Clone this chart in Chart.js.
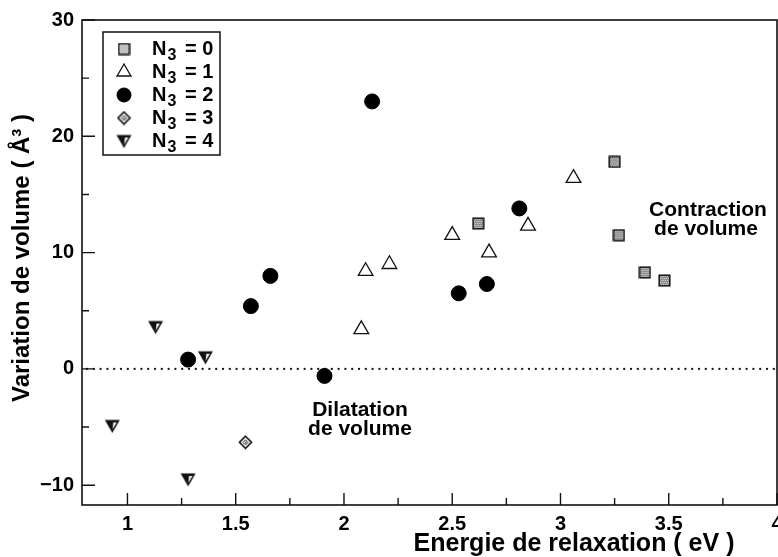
<!DOCTYPE html>
<html>
<head>
<meta charset="utf-8">
<script src="https://cdn.jsdelivr.net/npm/chart.js"></script>
<style>html,body{margin:0;padding:0;background:#fff;}</style>
</head>
<body>
<canvas id="chart" width="778" height="557"></canvas>
<script>
// values
const n0X = [2.62, 3.25, 3.27, 3.39, 3.48];
const n0Y = [12.5, 17.8, 11.5, 8.3, 7.6];
const n1X = [2.08, 2.10, 2.21, 2.50, 2.67, 2.85, 3.06];
const n1Y = [3.4, 8.4, 9.0, 11.5, 10.0, 12.3, 16.4];
const n2X = [1.28, 1.57, 1.66, 1.91, 2.13, 2.53, 2.66, 2.81];
const n2Y = [0.8, 5.4, 8.0, -0.6, 23.0, 6.5, 7.3, 13.8];
const n3X = [1.545];
const n3Y = [-6.3];
const n4X = [0.93, 1.13, 1.36, 1.28];
const n4Y = [-4.9, 3.6, 1.0, -9.5];

const xTicks = [1, 1.5, 2, 2.5, 3, 3.5, 4];
const yTicks = [-10, 0, 10, 20, 30];
const xMinor = [1.25, 1.75, 2.25, 2.75, 3.25, 3.75];
const yMinor = [-5, 5, 15, 25];
const seriesN = ['0', '1', '2', '3', '4'];

const FONT = '"Liberation Sans", Arial, Helvetica, sans-serif';
const PLOT_RIGHT = 777;

function pts(xs, ys) {
    return xs.map((x, i) => ({ x: x, y: ys[i] }));
}

function markerCanvas(w, h, draw) {
    const c = document.createElement('canvas');
    c.width = w; c.height = h;
    draw(c.getContext('2d'));
    return c;
}

// stippled grey square
function makeSquare(dark, light) {
    return markerCanvas(13, 13, g => {
        g.fillStyle = dark;
        g.fillRect(1, 1, 11, 11);
        g.fillStyle = light;
        for (let i = 2; i < 11; i += 2)
            for (let j = 2; j < 11; j += 2) g.fillRect(i + (j % 4 ? 1 : 0), j, 1, 1);
        g.strokeStyle = '#111';
        g.lineWidth = 1.5;
        g.strokeRect(1.2, 1.2, 10.6, 10.6);
    });
}
const squareMark = makeSquare('#8e8e8e', '#d4d4d4');
const squareLegend = makeSquare('#b5b5b5', '#e6e6e6');

// small diamond with a dot in the middle
const diamondMark = markerCanvas(15, 15, g => {
    g.strokeStyle = '#111';
    g.fillStyle = '#fff';
    g.lineWidth = 1.6;
    g.beginPath();
    g.moveTo(7.5, 1.5); g.lineTo(13.5, 7.5); g.lineTo(7.5, 13.5); g.lineTo(1.5, 7.5);
    g.closePath(); g.fill(); g.stroke();
    g.lineWidth = 1;
    g.beginPath();
    g.moveTo(7.5, 5); g.lineTo(10, 7.5); g.lineTo(7.5, 10); g.lineTo(5, 7.5);
    g.closePath(); g.stroke();
    g.fillStyle = '#555';
    g.fillRect(7, 7, 1.5, 1.5);
});

// down triangle, heavy black with a white slash
const downMark = markerCanvas(17, 15, g => {
    g.fillStyle = '#111';
    g.beginPath();
    g.moveTo(1, 1.5); g.lineTo(16, 1.5); g.lineTo(8.5, 14.5);
    g.closePath(); g.fill();
    g.fillStyle = '#fff';
    g.beginPath();
    g.moveTo(9.5, 4); g.lineTo(12.8, 4); g.lineTo(8.6, 11);
    g.closePath(); g.fill();
});

const styles = [
    { pointStyle: squareMark },
    { pointStyle: 'triangle', radius: 8.5, backgroundColor: '#fff', borderColor: '#111', borderWidth: 1.3 },
    { pointStyle: 'circle', radius: 7.5, backgroundColor: '#000', borderColor: '#000', borderWidth: 1 },
    { pointStyle: diamondMark },
    { pointStyle: downMark }
];
const legendMarks = [squareLegend, 'triangle', 'circle', diamondMark, downMark];

const decor = {
    id: 'decor',
    afterLayout(chart) {
        // let the frame run to the page edge like the scan does
        const x = chart.scales.x;
        chart.chartArea.right = PLOT_RIGHT;
        x.right = PLOT_RIGHT;
        x.width = PLOT_RIGHT - x.left;
        x.configure();
    },
    beforeDatasetsDraw(chart) {
        const { ctx, chartArea: a, scales: { y } } = chart;
        const y0 = y.getPixelForValue(0);
        ctx.save();
        ctx.fillStyle = '#111';
        for (let px = a.left + 5; px < a.right - 2; px += 6.8) {
            ctx.beginPath();
            ctx.arc(px, y0, 1.15, 0, Math.PI * 2);
            ctx.fill();
        }
        ctx.restore();
    },
    afterDatasetsDraw(chart) {
        const { ctx, chartArea: a, scales: { x, y } } = chart;
        ctx.save();
        ctx.strokeStyle = '#111';

        // frame
        ctx.lineWidth = 1.6;
        ctx.strokeRect(a.left, a.top, a.right - a.left, a.bottom - a.top);

        // inward ticks
        ctx.lineWidth = 1.4;
        ctx.beginPath();
        xTicks.forEach(v => { const p = x.getPixelForValue(v); ctx.moveTo(p, a.bottom); ctx.lineTo(p, a.bottom - 12); });
        xMinor.forEach(v => { const p = x.getPixelForValue(v); ctx.moveTo(p, a.bottom); ctx.lineTo(p, a.bottom - 7); });
        yTicks.forEach(v => { const p = y.getPixelForValue(v); ctx.moveTo(a.left, p); ctx.lineTo(a.left + 13, p); });
        yMinor.forEach(v => { const p = y.getPixelForValue(v); ctx.moveTo(a.left, p); ctx.lineTo(a.left + 7, p); });
        ctx.stroke();

        // axis titles
        ctx.fillStyle = '#000';
        ctx.font = 'bold 25px ' + FONT;
        ctx.textAlign = 'center';
        ctx.textBaseline = 'middle';
        ctx.fillText('Energie de relaxation ( eV )', 574, 544);
        ctx.save();
        ctx.translate(22, 258);
        ctx.rotate(-Math.PI / 2);
        ctx.font = 'bold 24px ' + FONT;
        ctx.fillText('Variation de volume ( Å³ )', 0, 0);
        ctx.restore();

        // annotations
        ctx.font = 'bold 21px ' + FONT;
        ctx.fillText('Contraction', 708, 210);
        ctx.fillText('de volume', 706, 229);
        ctx.fillText('Dilatation', 360, 410);
        ctx.fillText('de volume', 360, 429);

        // legend
        const lx = 103, ly = 32, lw = 117, lh = 123;
        ctx.fillStyle = '#fff';
        ctx.fillRect(lx, ly, lw, lh);
        ctx.lineWidth = 1.5;
        ctx.strokeRect(lx, ly, lw, lh);
        const rows = [49, 72, 95, 118, 141];
        rows.forEach((ry, i) => {
            const st = styles[i];
            ctx.fillStyle = st.backgroundColor || '#000';
            ctx.strokeStyle = st.borderColor || '#000';
            ctx.lineWidth = st.borderWidth || 0;
            Chart.helpers.drawPoint(ctx, {
                pointStyle: legendMarks[i],
                radius: st.radius ? st.radius - 0.5 : 6,
                rotation: 0,
                borderWidth: st.borderWidth || 0
            }, 124, ry);
            ctx.fillStyle = '#000';
            ctx.textAlign = 'left';
            ctx.textBaseline = 'middle';
            ctx.font = 'bold 20px ' + FONT;
            ctx.fillText('N', 152, ry);
            const nw = ctx.measureText('N').width;
            ctx.font = 'bold 16px ' + FONT;
            ctx.fillText('3', 152 + nw + 1, ry + 7);
            ctx.font = 'bold 20px ' + FONT;
            ctx.fillText('= ' + seriesN[i], 185, ry);
        });
        ctx.restore();
    }
};

const datasets = [
    { data: pts(n0X, n0Y), ...styles[0] },
    { data: pts(n1X, n1Y), ...styles[1] },
    { data: pts(n2X, n2Y), ...styles[2] },
    { data: pts(n3X, n3Y), ...styles[3] },
    { data: pts(n4X, n4Y), ...styles[4] }
].map((d, i) => Object.assign({ label: 'N3 = ' + seriesN[i] }, d));

const tickLabel = v => (v < 0 ? '\u2212' + Math.abs(v) : String(v));

new Chart(document.getElementById('chart'), {
    type: 'scatter',
    data: { datasets: datasets },
    options: {
        responsive: false,
        animation: false,
        events: [],
        layout: { padding: { top: 20, right: 1, left: 0, bottom: 0 } },
        plugins: { legend: { display: false }, tooltip: { enabled: false } },
        scales: {
            x: {
                type: 'linear',
                min: 0.79,
                max: 4,
                grid: { display: false, drawTicks: false },
                border: { display: false },
                afterBuildTicks: s => { s.ticks = xTicks.map(v => ({ value: v })); },
                afterFit: s => { s.height = 52; s.paddingLeft = 0; s.paddingRight = 0; },
                ticks: {
                    color: '#000',
                    padding: 7,
                    maxRotation: 0,
                    autoSkip: false,
                    callback: tickLabel,
                    font: { family: FONT, size: 20, weight: 'bold' }
                }
            },
            y: {
                type: 'linear',
                min: -11.7,
                max: 30,
                grid: { display: false, drawTicks: false },
                border: { display: false },
                afterBuildTicks: s => { s.ticks = yTicks.map(v => ({ value: v })); },
                afterFit: s => { s.width = 82; s.paddingTop = 0; s.paddingBottom = 0; },
                ticks: {
                    color: '#000',
                    padding: 8,
                    callback: tickLabel,
                    font: { family: FONT, size: 20, weight: 'bold' }
                }
            }
        }
    },
    plugins: [decor]
});
</script>
</body>
</html>
